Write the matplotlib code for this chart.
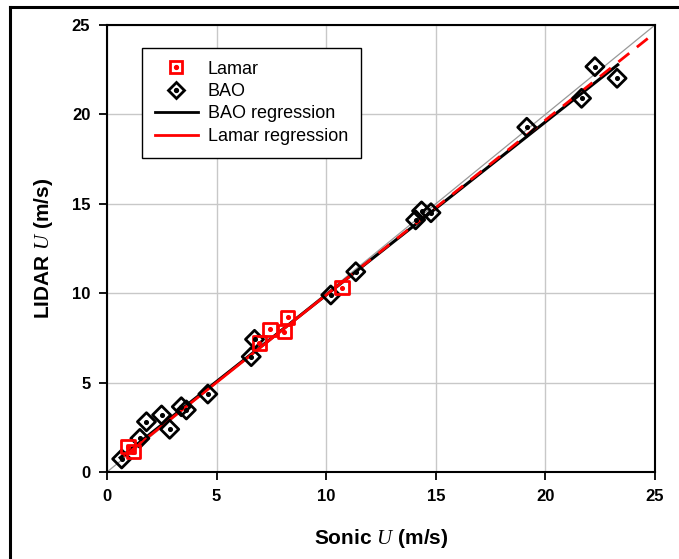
import matplotlib
matplotlib.use("Agg")
import matplotlib.pyplot as plt
from matplotlib.legend_handler import HandlerTuple
from matplotlib.lines import Line2D
import numpy as np

plt.rcParams['font.family'] = ['Liberation Sans', 'DejaVu Sans']
plt.rcParams['mathtext.fontset'] = 'custom'
plt.rcParams['mathtext.it'] = 'Liberation Serif:italic'
plt.rcParams['mathtext.rm'] = 'Liberation Serif'

# Data
lamar_x = [0.97, 1.2, 6.95, 7.44, 8.09, 8.24, 10.71]
lamar_y = [1.42, 1.14, 7.2, 7.98, 7.85, 8.65, 10.31]

bao_x = [0.67, 1.5, 1.8, 2.49, 2.86, 3.39, 3.62, 4.6, 6.58, 6.73,
         10.21, 11.35, 14.08, 14.35, 14.78, 19.15, 21.65, 22.26, 23.27]
bao_y = [0.73, 1.88, 2.81, 3.19, 2.39, 3.65, 3.47, 4.36, 6.45, 7.42,
         9.9, 11.2, 14.1, 14.6, 14.5, 19.28, 20.9, 22.67, 22.02]

bao_slope, bao_icpt = 0.968, 0.22
bao_range = [0.6, 23.3]
lamar_slope, lamar_icpt = 0.978, 0.12
lamar_range = [0.82, 10.7]
lamar_ext = [10.7, 25.0]

ticks = [0, 5, 10, 15, 20, 25]

fig = plt.figure(figsize=(6.79, 5.59), dpi=100)
W, H = 679, 559
ax = fig.add_axes([107 / W, 1 - 472 / H, (655 - 107) / W, (472 - 25) / H])

# outer partial frame
fig.add_artist(plt.Line2D([10 / W, 1.0], [1 - 7 / H, 1 - 7 / H], color='black', lw=2.2,
                          transform=fig.transFigure))
fig.add_artist(plt.Line2D([10 / W, 10 / W], [0.0, 1 - 7 / H], color='black', lw=2.2,
                          transform=fig.transFigure))

ax.set_xlim(0, 25)
ax.set_ylim(0, 25)
ax.set_xticks(ticks)
ax.set_yticks(ticks)
ax.grid(True, color='#c8c8c8', lw=1.0, zorder=0)
ax.set_axisbelow(True)

# 1:1 line
ax.plot([0, 25], [0, 25], color='#999999', lw=0.9, zorder=1)

# BAO regression
bx = np.array(bao_range)
ax.plot(bx, bao_slope * bx + bao_icpt, color='black', lw=2.2, zorder=2)
# Lamar regression solid + dashed extrapolation
lx = np.array(lamar_range)
ax.plot(lx, lamar_slope * lx + lamar_icpt, color='#ff0000', lw=2.0, zorder=3)
le = np.array(lamar_ext)
ax.plot(le, lamar_slope * le + lamar_icpt, color='#ff0000', lw=2.0, ls=(0, (5, 3.5)), zorder=3)

# markers
ax.scatter(bao_x, bao_y, marker='D', s=85, facecolors='none', edgecolors='black',
           linewidths=2.0, zorder=4)
ax.scatter(bao_x, bao_y, marker='o', s=7, color='black', zorder=5)
ax.scatter(lamar_x, lamar_y, marker='s', s=95, facecolors='none', edgecolors='#ff0000',
           linewidths=2.0, zorder=4)
ax.scatter(lamar_x, lamar_y, marker='o', s=7, color='#ff0000', zorder=5)

for s in ax.spines.values():
    s.set_linewidth(1.5)
    s.set_color('black')
ax.tick_params(direction='out', length=6, width=1.3, pad=6, labelsize=12)
for lab in ax.get_xticklabels() + ax.get_yticklabels():
    lab.set_fontweight('bold')

ax.set_xlabel(r'Sonic $\mathit{U}$ (m/s)', fontsize=15, fontweight='bold', labelpad=17)
ax.set_ylabel(r'LIDAR $\mathit{U}$ (m/s)', fontsize=15, fontweight='bold', labelpad=12)

h_lamar = (Line2D([], [], marker='s', ms=9, mfc='none', mec='#ff0000', mew=2.0, ls='none'),
           Line2D([], [], marker='o', ms=2.8, color='#ff0000', ls='none'))
h_bao = (Line2D([], [], marker='D', ms=8.5, mfc='none', mec='black', mew=2.0, ls='none'),
         Line2D([], [], marker='o', ms=2.8, color='black', ls='none'))
h_breg = Line2D([], [], color='black', lw=2.0)
h_lreg = Line2D([], [], color='#ff0000', lw=2.0)
leg = ax.legend([h_lamar, h_bao, h_breg, h_lreg],
                ['Lamar', 'BAO', 'BAO regression', 'Lamar regression'],
                handler_map={tuple: HandlerTuple(ndivide=1, pad=0)},
                loc='upper left', bbox_to_anchor=((142 - 107) / 548, 1 - (48 - 25) / 447),
                fontsize=13, frameon=True, fancybox=False, edgecolor='black',
                framealpha=1, handlelength=2.4, borderpad=0.7, labelspacing=0.3,
                handletextpad=0.55, borderaxespad=0)
leg.get_frame().set_linewidth(1.0)

fig.savefig('out.png', dpi=100)
